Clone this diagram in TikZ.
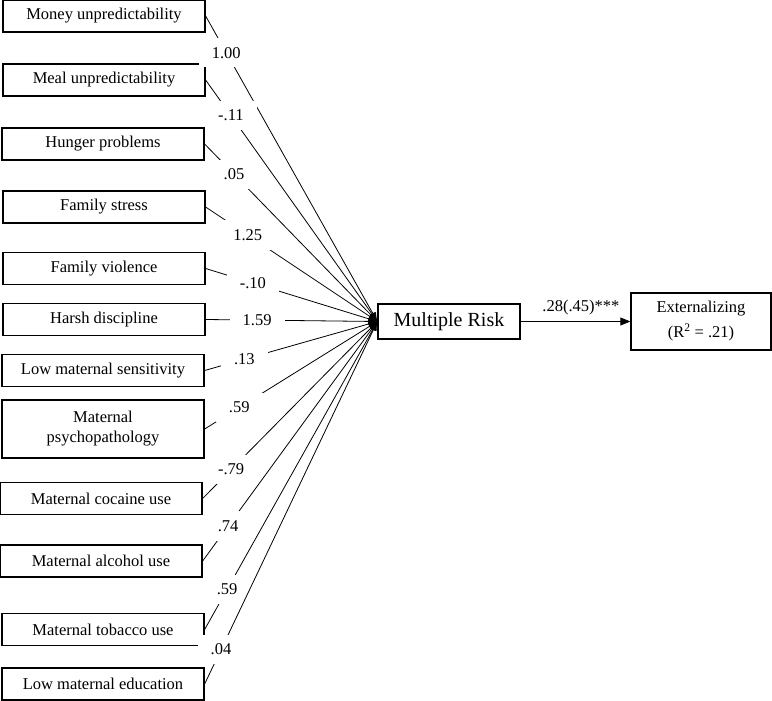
\documentclass[tikz,border=0pt]{standalone}
\usepackage{fontspec}
\setmainfont{Liberation Serif}
\usetikzlibrary{arrows.meta}
\begin{document}
\begin{tikzpicture}[x=1pt,y=-1pt,
  rbox/.style={draw,line width=1.3pt,minimum height=32pt,minimum width=202pt,inner sep=2pt,align=center,font=\fontsize{16.5}{20}\selectfont},
  wt/.style={fill=white,inner xsep=13pt,inner ysep=9pt,font=\fontsize{16.5}{20}\selectfont},
  load/.style={line width=.8pt,-{Latex[length=9pt,width=7pt]}}]
\useasboundingbox (0,0) rectangle (772,701);
% observed risks
\foreach \n/\x/\y/\t in {money/104/16/Money unpredictability,meal/104/80/Meal unpredictability,
  hunger/103/144/Hunger problems,stress/104/207/Family stress,violence/104/268.5/Family violence,
  harsh/104/319.5/Harsh discipline,sens/103/370.5/Low maternal sensitivity,
  cocaine/101/498.5/Maternal cocaine use,alcohol/101/561/Maternal alcohol use,
  tobacco/103/629.5/Maternal tobacco use,educ/103/684/Low maternal education}
  \node[rbox] (\n) at (\x,\y) {\t};
\node[rbox,minimum height=58pt] (psych) at (103,429) {Maternal\\psychopathology};
% latent and outcome
\node[rbox,minimum width=142pt,minimum height=35pt,font=\fontsize{20}{22}\selectfont] (mrisk) at (449,321.5) {Multiple Risk};
\node[rbox,minimum width=140pt,minimum height=57pt,font=\fontsize{16.5}{25}\selectfont] (ext) at (701,321.5) {Externalizing\\(R\textsuperscript{2} = .21)};
% loadings
\foreach \n/\l/\p in {money/1.00/.12,meal/-.11/.147,hunger/.05/.17,stress/1.25/.245,violence/-.10/.275,
  harsh/1.59/.3,sens/.13/.23,psych/.59/.2,cocaine/-.79/.163,alcohol/.74/.146,tobacco/.59/.13,educ/.04/.095}
  \draw[load] (\n.east) -- node[wt,pos=\p] {\l} (mrisk.west);
\draw[line width=.8pt,-{Triangle[length=10pt,width=8pt]}] (mrisk) -- node[above=3pt,pos=.55,font=\fontsize{16.5}{20}\selectfont] {.28(.45)***} (ext);
\end{tikzpicture}
\end{document}
